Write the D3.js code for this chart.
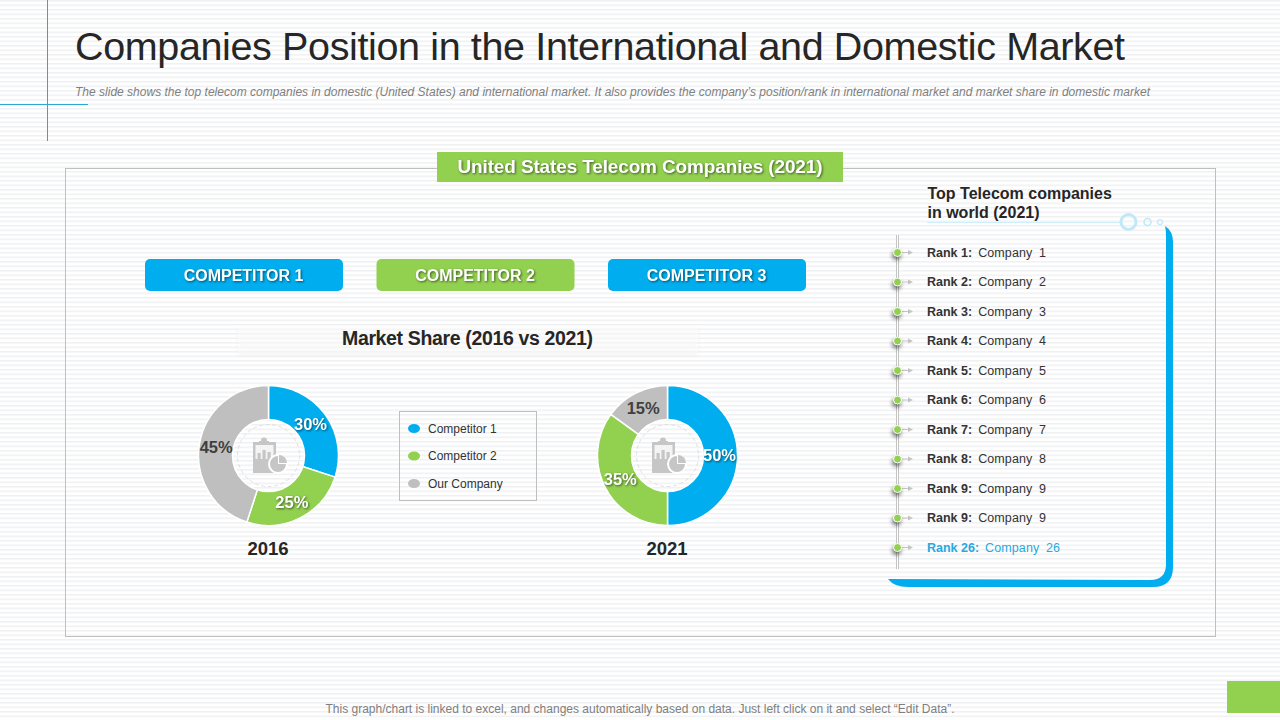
<!DOCTYPE html>
<html>
<head>
<meta charset="utf-8">
<title>Companies Position</title>
<script src="https://d3js.org/d3.v7.min.js"></script>
<style>
html, body { margin: 0; padding: 0; background: #fff; }
svg { display: block; font-family: "Liberation Sans", Arial, sans-serif; }
.glow { filter: drop-shadow(1px 1px 1px rgba(0,0,0,.55)); }
</style>
</head>
<body>
<div id="slide"></div>
<script>
// values
var years = ["2016", "2021"]
var legendNames = ["Competitor 1", "Competitor 2", "Our Company"]
var share2016 = [30, 25, 45]
var share2021 = [50, 35, 15]
var buttons = ["COMPETITOR 1", "COMPETITOR 2", "COMPETITOR 3"]
var rankLabels = ["Rank 1:", "Rank 2:", "Rank 3:", "Rank 4:", "Rank 5:", "Rank 6:", "Rank 7:", "Rank 8:", "Rank 9:", "Rank 9:", "Rank 26:"]
var rankCompanies = ["Company 1", "Company 2", "Company 3", "Company 4", "Company 5", "Company 6", "Company 7", "Company 8", "Company 9", "Company 9", "Company 26"]

var width = 1280
var height = 720

var blue = "#00aeef"
var green = "#92d050"
var grey = "#bfbfbf"
var sliceColor = d3.scaleOrdinal().domain(legendNames).range([blue, green, grey])

var svg = d3.select("#slide")
    .append("svg")
    .attr("width", width)
    .attr("height", height)

// striped background
var defs = svg.append("defs")
var stripes = defs.append("pattern")
    .attr("id", "stripes")
    .attr("width", 8)
    .attr("height", 4.5)
    .attr("patternUnits", "userSpaceOnUse")
stripes.append("rect").attr("width", 8).attr("height", 4.5).attr("fill", "#fff")
stripes.append("rect").attr("width", 8).attr("height", 1.5).attr("fill", "#f0f1f2")

svg.append("rect").attr("width", width).attr("height", height).attr("fill", "url(#stripes)")

// corner cross lines
svg.append("line").attr("x1", 47.5).attr("x2", 47.5).attr("y1", 0).attr("y2", 141).attr("stroke", "#2aa9d2")
svg.append("line").attr("x1", 0).attr("x2", 88).attr("y1", 104.5).attr("y2", 104.5).attr("stroke", "#2aa9d2")

// header
svg.append("text")
    .attr("x", 75).attr("y", 60)
    .attr("font-size", 39.5)
    .attr("fill", "#262626")
    .attr("textLength", 1050)
    .text("Companies Position in the International and Domestic Market")
svg.append("text")
    .attr("x", 75).attr("y", 96)
    .attr("font-size", 12)
    .attr("font-style", "italic")
    .attr("fill", "#7f7f7f")
    .attr("textLength", 1075)
    .text("The slide shows the top telecom companies in domestic (United States) and international market. It also provides the company\u2019s position/rank in international market and market share in domestic market")

// main panel
svg.append("rect")
    .attr("x", 65.5).attr("y", 168.5)
    .attr("width", 1150).attr("height", 468)
    .attr("fill", "none")
    .attr("stroke", "#bfbfbf")

svg.append("rect").attr("x", 437).attr("y", 152).attr("width", 406).attr("height", 30).attr("fill", green)
svg.append("text")
    .attr("class", "glow")
    .attr("x", 640).attr("y", 173)
    .attr("text-anchor", "middle")
    .attr("font-size", 19)
    .attr("font-weight", "bold")
    .attr("fill", "#fff")
    .attr("textLength", 365)
    .text("United States Telecom Companies (2021)")

// competitor buttons
var buttonX = d3.scalePoint().domain(buttons).range([244, 707])
var buttonG = svg.selectAll(".btn")
    .data(buttons)
    .enter()
    .append("g")
    .attr("class", "btn")
    .attr("transform", d => "translate(" + buttonX(d) + ",275)")
buttonG.append("rect")
    .attr("x", -99).attr("y", -16)
    .attr("width", 198).attr("height", 32)
    .attr("rx", 5)
    .attr("fill", (d, i) => i == 1 ? green : blue)
buttonG.append("text")
    .attr("class", "glow")
    .attr("x", -0.5).attr("y", 6)
    .attr("text-anchor", "middle")
    .attr("font-size", 16)
    .attr("font-weight", "bold")
    .attr("fill", "#fff")
    .text(d => d)

// market share heading
svg.append("rect")
    .attr("x", 238).attr("y", 325)
    .attr("width", 460).attr("height", 28)
    .attr("fill", "#fff")
    .attr("fill-opacity", .5)
    .style("filter", "drop-shadow(0 2px 2px rgba(0,0,0,.07))")
svg.append("text")
    .attr("x", 467.5).attr("y", 345)
    .attr("text-anchor", "middle")
    .attr("font-size", 19.5)
    .attr("font-weight", "bold")
    .attr("fill", "#262626")
    .attr("textLength", 251)
    .text("Market Share (2016 vs 2021)")

// donuts
var pie = d3.pie().sort(null)
var arc = d3.arc().innerRadius(35).outerRadius(70)
var labelArc = d3.arc().innerRadius(52.5).outerRadius(52.5)
var donutX = d3.scalePoint().domain(years).range([268.5, 667.5])

function drawDonut(year, values) {
    var g = svg.append("g").attr("transform", "translate(" + donutX(year) + ",455.5)")
    var slices = pie(values)

    g.selectAll("path.slice")
        .data(slices)
        .enter()
        .append("path")
        .attr("class", "slice")
        .attr("d", arc)
        .attr("fill", (d, i) => sliceColor(legendNames[i]))
        .attr("stroke", "#fff")
        .attr("stroke-width", 1.5)

    g.append("circle").attr("r", 36).attr("fill", "url(#stripes)").attr("stroke", "#fff").attr("stroke-width", 1.5)
    g.append("circle").attr("r", 31).attr("fill", "none").attr("stroke", "#d8d8d8").attr("stroke-width", .8).attr("stroke-dasharray", "4 2.5")
    drawIcon(g)

    g.selectAll("text.pct")
        .data(slices)
        .enter()
        .append("text")
        .attr("class", (d, i) => i == 2 ? "pct" : "pct glow")
        .attr("x", d => labelArc.centroid(d)[0] - 0.5)
        .attr("y", d => labelArc.centroid(d)[1] + 5.5)
        .attr("text-anchor", "middle")
        .attr("font-size", 16.5)
        .attr("font-weight", "bold")
        .attr("fill", (d, i) => i == 2 ? "#404040" : "#fff")
        .text(d => d.data + "%")

    svg.append("text")
        .attr("x", donutX(year) - 0.5).attr("y", 555)
        .attr("text-anchor", "middle")
        .attr("font-size", 18.5)
        .attr("font-weight", "bold")
        .attr("fill", "#262626")
        .text(year)
}

// clipboard with small pie, same in both donuts
function drawIcon(g) {
    var c = "#c6c6c6"
    var icon = g.append("g")
    icon.append("rect").attr("x", -15.5).attr("y", -13.5).attr("width", 23).attr("height", 31).attr("fill", c)
    icon.append("rect").attr("x", -13).attr("y", -10.5).attr("width", 18).attr("height", 14).attr("fill", "#f4f4f4")
    icon.append("rect").attr("x", -9.5).attr("y", -14.5).attr("width", 10).attr("height", 4).attr("fill", c)
    icon.append("circle").attr("cx", -4.5).attr("cy", -15).attr("r", 3).attr("fill", c)
    icon.selectAll("rect.bar")
        .data([6, 9, 7])
        .enter()
        .append("rect")
        .attr("class", "bar")
        .attr("x", (d, i) => -11 + i * 5)
        .attr("y", d => 3.5 - d)
        .attr("width", 3.2)
        .attr("height", d => d)
        .attr("fill", c)
    icon.append("circle").attr("cx", 9.5).attr("cy", 8.5).attr("r", 10).attr("fill", "#fff")
    icon.append("path")
        .attr("transform", "translate(9.5,8.5)")
        .attr("d", d3.arc().innerRadius(0).outerRadius(8)({startAngle: Math.PI * .5, endAngle: Math.PI * 2}))
        .attr("fill", c)
    icon.append("path")
        .attr("transform", "translate(10.5,7.5)")
        .attr("d", d3.arc().innerRadius(0).outerRadius(8)({startAngle: 0, endAngle: Math.PI * .5}))
        .attr("fill", c)
}

drawDonut("2016", share2016)
drawDonut("2021", share2021)

// legend
svg.append("rect")
    .attr("x", 399.5).attr("y", 411.5)
    .attr("width", 137).attr("height", 89)
    .attr("fill", "none")
    .attr("stroke", "#bfbfbf")
var legendY = d3.scalePoint().domain(legendNames).range([428.5, 483.5])
var legendG = svg.selectAll(".leg")
    .data(legendNames)
    .enter()
    .append("g")
    .attr("class", "leg")
    .attr("transform", d => "translate(414," + legendY(d) + ")")
legendG.append("ellipse").attr("rx", 6).attr("ry", 4.5).attr("fill", d => sliceColor(d))
legendG.append("text")
    .attr("x", 14).attr("y", 4)
    .attr("font-size", 12)
    .attr("fill", "#333")
    .text(d => d)

// right hand frame
svg.append("path")
    .attr("d", "M1165,226 Q1173,231 1173,242 L1173,567 Q1173,587 1153,587 L908,587 Q894,587 888,579 L1150,580 Q1166,580 1166,564 L1166,236 Q1166,230 1165,226 Z")
    .attr("fill", blue)

svg.append("line").attr("x1", 927).attr("x2", 1120).attr("y1", 222.5).attr("y2", 222.5).attr("stroke", "#cdeefa")
svg.append("circle").attr("cx", 1128.5).attr("cy", 222).attr("r", 7.5).attr("fill", "none").attr("stroke", "#bfe9f8").attr("stroke-width", 3)
svg.append("circle").attr("cx", 1147.5).attr("cy", 222).attr("r", 3.5).attr("fill", "none").attr("stroke", "#bfe9f8").attr("stroke-width", 1.5)
svg.append("circle").attr("cx", 1160).attr("cy", 222).attr("r", 2.5).attr("fill", "none").attr("stroke", "#bfe9f8").attr("stroke-width", 1.2)

svg.selectAll("text.top")
    .data(["Top Telecom companies", "in world (2021)"])
    .enter()
    .append("text")
    .attr("class", "top")
    .attr("x", 927.5)
    .attr("y", (d, i) => 199 + i * 19)
    .attr("font-size", 16)
    .attr("font-weight", "bold")
    .attr("fill", "#262626")
    .text(d => d)

// rank list
svg.append("rect").attr("x", 896).attr("y", 235).attr("width", 3).attr("height", 334).attr("fill", "#c4c4c4")
svg.append("rect").attr("x", 897).attr("y", 235).attr("width", 1).attr("height", 334).attr("fill", "#fff")

var rankY = d3.scaleLinear().domain([0, rankLabels.length - 1]).range([252.5, 547.5])
var rankG = svg.selectAll(".rank")
    .data(rankLabels)
    .enter()
    .append("g")
    .attr("class", "rank")
    .attr("transform", (d, i) => "translate(0," + rankY(i) + ")")
rankG.append("line").attr("x1", 902).attr("x2", 910).attr("y1", 0).attr("y2", 0).attr("stroke", "#c4c4c4")
rankG.append("path").attr("d", "M908,-2.5 L913,0 L908,2.5 Z").attr("fill", "#c4c4c4")
rankG.append("circle")
    .attr("cx", 897.5).attr("r", 4)
    .attr("fill", green)
    .attr("stroke", "#fff")
    .style("filter", "drop-shadow(-1px 3px 2px rgba(0,0,0,.55))")
var rankText = rankG.append("text")
    .attr("x", 927).attr("y", 4)
    .attr("font-size", 12.5)
    .attr("fill", (d, i) => i == rankLabels.length - 1 ? "#27a9e1" : "#333")
rankText.append("tspan").attr("font-weight", "bold").text(d => d)
rankText.append("tspan").attr("dx", 6).attr("word-spacing", 3).attr("letter-spacing", .1).text((d, i) => rankCompanies[i])

// footer
svg.append("text")
    .attr("x", 640).attr("y", 712.5)
    .attr("text-anchor", "middle")
    .attr("font-size", 12)
    .attr("fill", "#7f7f7f")
    .text("This graph/chart is linked to excel, and changes automatically based on data. Just left click on it and select \u201cEdit Data\u201d.")
svg.append("rect").attr("x", 1227).attr("y", 681).attr("width", 53).attr("height", 32).attr("fill", green)
</script>
</body>
</html>
